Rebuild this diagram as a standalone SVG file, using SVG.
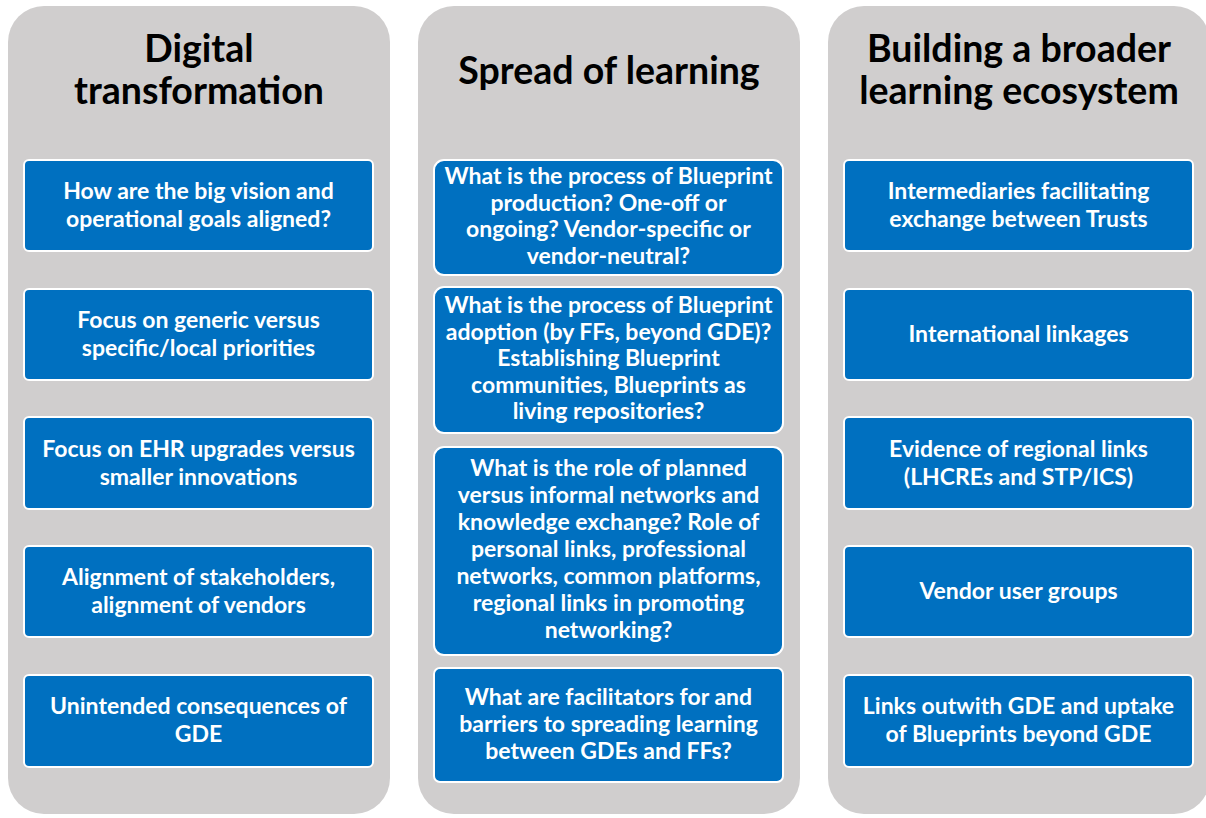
<svg xmlns="http://www.w3.org/2000/svg" width="1206" height="818" viewBox="0 0 1206 818">
<style>
.panel{fill:#D0CECE}
.box{fill:#0070C0;stroke:#FFFFFF;stroke-width:2}
.title{font-family:Lato,"Open Sans",sans-serif;font-weight:bold;font-size:37.5px;fill:#000;text-anchor:middle}
.t{font-family:Lato,"Open Sans",sans-serif;font-weight:bold;font-size:23px;fill:#FFF;text-anchor:middle}
</style>
<rect width="1206" height="818" fill="#FFFFFF"/>
<g id="col1">
<rect class="panel" x="8" y="6" width="382" height="808" rx="36"/>
<text class="title" x="199" y="62">Digital</text>
<text class="title" x="199" y="104">transformation</text>
</g>
<g id="col2">
<rect class="panel" x="418" y="6" width="382" height="808" rx="36"/>
<text class="title" x="609" y="84">Spread of learning</text>
</g>
<g id="col3">
<rect class="panel" x="828" y="6" width="382" height="808" rx="36"/>
<text class="title" x="1019" y="62">Building a broader</text>
<text class="title" x="1019" y="104">learning ecosystem</text>
</g>

<g id="n1"><rect class="box" x="24" y="160" width="349" height="91" rx="5"/>
<text class="t" x="198.5" y="199">How are the big vision and</text>
<text class="t" x="198.5" y="227">operational goals aligned?</text></g>
<g id="n2"><rect class="box" x="24" y="289" width="349" height="91" rx="5"/>
<text class="t" x="198.5" y="328">Focus on generic versus</text>
<text class="t" x="198.5" y="356">specific/local priorities</text></g>
<g id="n3"><rect class="box" x="24" y="417" width="349" height="92" rx="5"/>
<text class="t" x="198.5" y="457">Focus on EHR upgrades versus</text>
<text class="t" x="198.5" y="485">smaller innovations</text></g>
<g id="n4"><rect class="box" x="24" y="546" width="349" height="91" rx="5"/>
<text class="t" x="198.5" y="585">Alignment of stakeholders,</text>
<text class="t" x="198.5" y="613">alignment of vendors</text></g>
<g id="n5"><rect class="box" x="24" y="675" width="349" height="92" rx="5"/>
<text class="t" x="198.5" y="714">Unintended consequences of</text>
<text class="t" x="198.5" y="742">GDE</text></g>

<g id="m1"><rect class="box" x="434" y="160" width="349" height="115" rx="10"/>
<text class="t" x="608.5" y="184">What is the process of Blueprint</text>
<text class="t" x="608.5" y="210.5">production? One-off or</text>
<text class="t" x="608.5" y="237">ongoing? Vendor-specific or</text>
<text class="t" x="608.5" y="263.5">vendor-neutral?</text></g>
<g id="m2"><rect class="box" x="434" y="287" width="349" height="146" rx="10"/>
<text class="t" x="608.5" y="313">What is the process of Blueprint</text>
<text class="t" x="608.5" y="339.5">adoption (by FFs, beyond GDE)?</text>
<text class="t" x="608.5" y="366">Establishing Blueprint</text>
<text class="t" x="608.5" y="392.5">communities, Blueprints as</text>
<text class="t" x="608.5" y="419">living repositories?</text></g>
<g id="m3"><rect class="box" x="434" y="447" width="349" height="208" rx="10"/>
<text class="t" x="608.5" y="476">What is the role of planned</text>
<text class="t" x="608.5" y="503">versus informal networks and</text>
<text class="t" x="608.5" y="530">knowledge exchange? Role of</text>
<text class="t" x="608.5" y="557">personal links, professional</text>
<text class="t" x="608.5" y="584">networks, common platforms,</text>
<text class="t" x="608.5" y="611">regional links in promoting</text>
<text class="t" x="608.5" y="638">networking?</text></g>
<g id="m4"><rect class="box" x="434" y="668" width="349" height="114" rx="6"/>
<text class="t" x="608.5" y="705">What are facilitators for and</text>
<text class="t" x="608.5" y="732">barriers to spreading learning</text>
<text class="t" x="608.5" y="759">between GDEs and FFs?</text></g>

<g id="r1"><rect class="box" x="844" y="160" width="349" height="91" rx="5"/>
<text class="t" x="1018.5" y="199">Intermediaries facilitating</text>
<text class="t" x="1018.5" y="227">exchange between Trusts</text></g>
<g id="r2"><rect class="box" x="844" y="289" width="349" height="91" rx="5"/>
<text class="t" x="1018.5" y="342">International linkages</text></g>
<g id="r3"><rect class="box" x="844" y="417" width="349" height="92" rx="5"/>
<text class="t" x="1018.5" y="457">Evidence of regional links</text>
<text class="t" x="1018.5" y="485">(LHCREs and STP/ICS)</text></g>
<g id="r4"><rect class="box" x="844" y="546" width="349" height="91" rx="5"/>
<text class="t" x="1018.5" y="599">Vendor user groups</text></g>
<g id="r5"><rect class="box" x="844" y="675" width="349" height="92" rx="5"/>
<text class="t" x="1018.5" y="714">Links outwith GDE and uptake</text>
<text class="t" x="1018.5" y="742">of Blueprints beyond GDE</text></g>
<g id="connectors"></g>
</svg>
